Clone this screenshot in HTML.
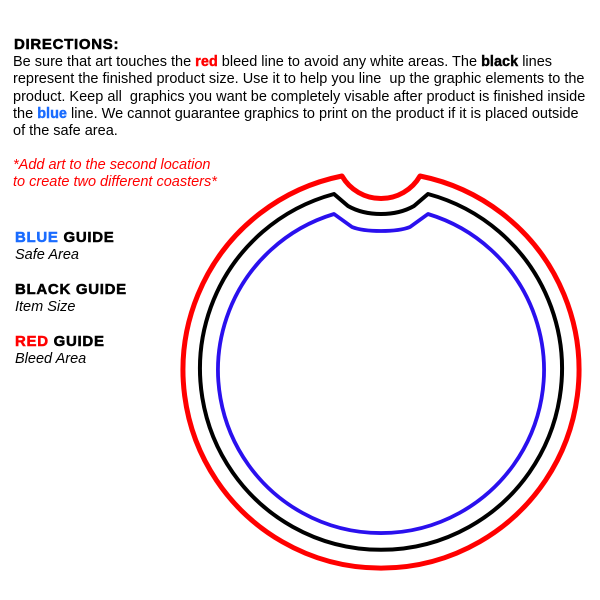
<!DOCTYPE html>
<html><head><meta charset="utf-8"><style>
body{margin:0;width:600px;height:600px;background:#fff;position:relative;overflow:hidden;font-family:"Liberation Sans",Arial,sans-serif;}
.t{position:absolute;left:13px;font-size:14.5px;line-height:17.3px;color:#000;white-space:nowrap}
.h{font-weight:bold;font-size:15px;letter-spacing:0.7px;-webkit-text-stroke:0.5px currentColor}
.b{font-weight:bold;-webkit-text-stroke:0.4px currentColor}
.i{font-style:italic}
</style></head><body>
<div class="t h" style="top:36px;left:14px">DIRECTIONS:</div>
<div class="t" style="top:54px">Be sure that art touches the <span class="b" style="color:#f00">red</span> bleed line to avoid any white areas. The <span class="b">black</span> lines<br>represent the finished product size. Use it to help you line&nbsp; up the graphic elements to the<br>product. Keep all&nbsp; graphics you want be completely visable after product is finished inside<br>the <span class="b" style="color:#1a6cff">blue</span> line. We cannot guarantee graphics to print on the product if it is placed outside<br>of the safe area.</div>
<div class="t i" style="top:157px;color:#f00">*Add art to the second location<br>to create two different coasters*</div>
<div class="t h" style="top:229px;left:15px"><span style="color:#1a6cff">BLUE</span> GUIDE</div>
<div class="t i" style="top:247px;left:15px">Safe Area</div>
<div class="t h" style="top:281px;left:15px">BLACK GUIDE</div>
<div class="t i" style="top:299px;left:15px">Item Size</div>
<div class="t h" style="top:333px;left:15px"><span style="color:#f00">RED</span> GUIDE</div>
<div class="t i" style="top:351px;left:15px">Bleed Area</div>
<svg width="600" height="600" style="position:absolute;left:0;top:0" fill="none">
<path d="M342,176 A198,198 0 1 0 420,176 A45,45 0 0 1 342,176 Z" stroke="#f00" stroke-width="5" stroke-linejoin="round"/>
<path d="M334,194 A181,181 0 1 0 428,194 L414,206 Q400,214 381,214 Q362,214 348,206 Z" stroke="#000" stroke-width="4" stroke-linejoin="round"/>
<path d="M334,214 A163,163 0 1 0 428,214 L410,227 Q400,231 381,231 Q362,231 352,227 Z" stroke="#2a10ee" stroke-width="3.8" stroke-linejoin="round"/>
</svg>
</body></html>
